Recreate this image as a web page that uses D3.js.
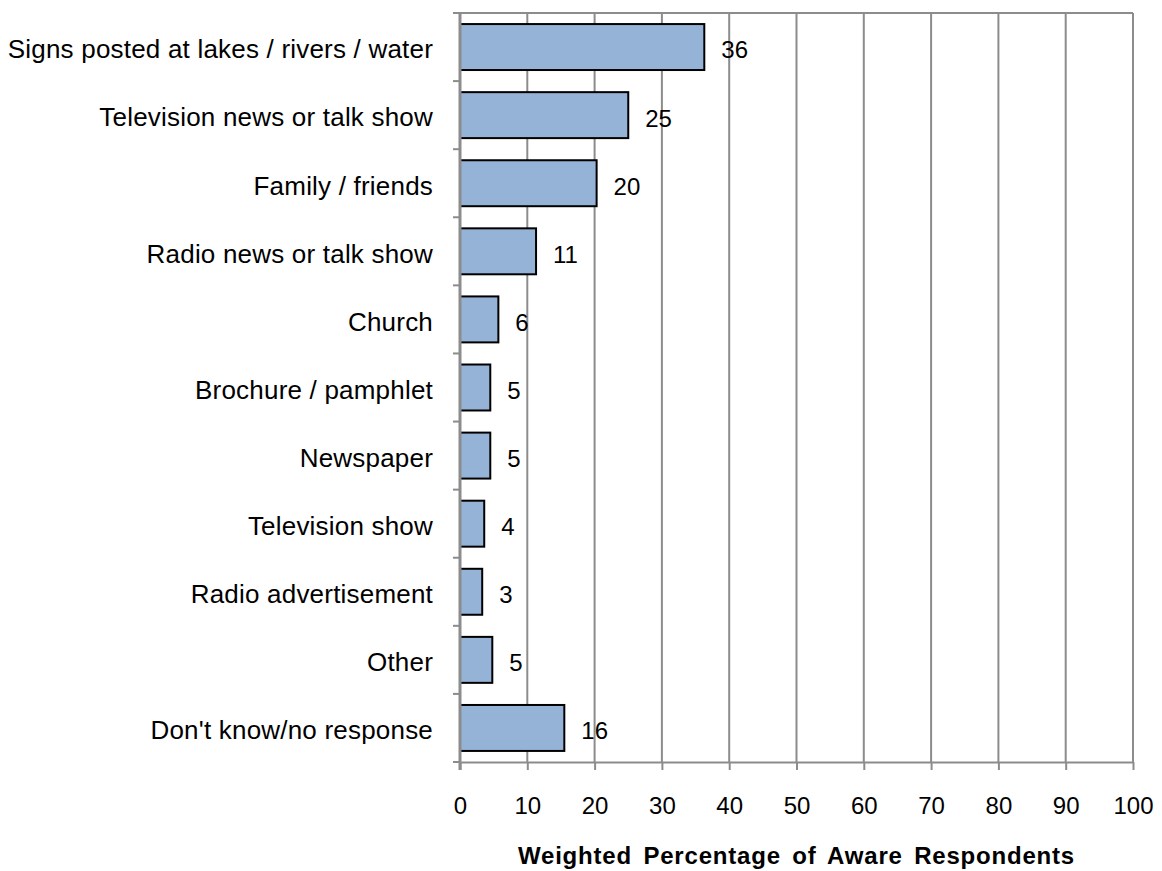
<!DOCTYPE html>
<html>
<head>
<meta charset="utf-8">
<script src="https://cdn.jsdelivr.net/npm/d3@7"></script>
<style>
	body { margin: 0; background: #fff; }
	text { font-family: "Liberation Sans", Arial, sans-serif; fill: #000; }
</style>
</head>
<body>
<svg id="chart"></svg>
<script>
const categories = [
	'Signs posted at lakes / rivers / water',
	'Television news or talk show',
	'Family / friends',
	'Radio news or talk show',
	'Church',
	'Brochure / pamphlet',
	'Newspaper',
	'Television show',
	'Radio advertisement',
	'Other',
	"Don't know/no response"
];
const values = [36.3, 25.0, 20.3, 11.3, 5.7, 4.5, 4.5, 3.6, 3.3, 4.8, 15.5];
const valueLabels = ['36', '25', '20', '11', '6', '5', '5', '4', '3', '5', '16'];
const xTicks = [0, 10, 20, 30, 40, 50, 60, 70, 80, 90, 100];
const xTitle = 'Weighted Percentage of Aware Respondents';

const DIMENSION = {
	width: 1162,
	height: 871,
	margin: { left: 460, right: 29, top: 13, bottom: 109 }
};
DIMENSION.trueWidth = DIMENSION.width - (DIMENSION.margin.left + DIMENSION.margin.right);
DIMENSION.trueHeight = DIMENSION.height - (DIMENSION.margin.top + DIMENSION.margin.bottom);

const svg = d3.select('#chart')
	.attr('width', DIMENSION.width)
	.attr('height', DIMENSION.height);

const g = svg.append('g')
	.attr('transform', `translate(${DIMENSION.margin.left},${DIMENSION.margin.top})`);

const xScale = d3.scaleLinear()
	.domain([0, 100])
	.range([0, DIMENSION.trueWidth]);

const yScale = d3.scaleBand()
	.domain(categories)
	.range([0, DIMENSION.trueHeight])
	.paddingInner(0.325)
	.paddingOuter(0.1625);

const gridColor = '#8c8c8c';

// vertical gridlines
g.append('g')
	.selectAll('line')
	.data(xTicks.slice(1))
	.join('line')
	.attr('x1', d => xScale(d))
	.attr('x2', d => xScale(d))
	.attr('y1', 0)
	.attr('y2', DIMENSION.trueHeight)
	.attr('stroke', gridColor)
	.attr('stroke-width', 2);

// top border line
g.append('line')
	.attr('x1', -7)
	.attr('x2', DIMENSION.trueWidth)
	.attr('y1', 0)
	.attr('y2', 0)
	.attr('stroke', gridColor)
	.attr('stroke-width', 2);

// bars
g.append('g')
	.selectAll('rect')
	.data(categories)
	.join('rect')
	.attr('x', 0)
	.attr('y', d => yScale(d))
	.attr('width', (d, i) => xScale(values[i]))
	.attr('height', yScale.bandwidth())
	.attr('fill', '#95b3d7')
	.attr('stroke', '#000')
	.attr('stroke-width', 2);

// value labels
g.append('g')
	.selectAll('text')
	.data(categories)
	.join('text')
	.attr('x', (d, i) => xScale(values[i]) + 17)
	.attr('y', d => yScale(d) + yScale.bandwidth() / 2 + 3)
	.attr('dy', '0.35em')
	.attr('font-size', 24)
	.text((d, i) => valueLabels[i]);

// x axis
const xAxis = g.append('g')
	.attr('transform', `translate(0,${DIMENSION.trueHeight})`)
	.call(d3.axisBottom(xScale).tickValues(xTicks).tickSize(8).tickPadding(27).tickSizeOuter(0));
xAxis.select('.domain').attr('stroke', gridColor).attr('stroke-width', 2);
xAxis.selectAll('.tick line').attr('stroke', gridColor).attr('stroke-width', 2);
xAxis.selectAll('.tick text')
	.attr('font-size', 24)
	.attr('font-family', '"Liberation Sans", Arial, sans-serif')
	.attr('fill', '#000');

// y axis with boundary ticks
const boundaries = d3.range(categories.length + 1).map(i => i * DIMENSION.trueHeight / categories.length);
g.append('line')
	.attr('x1', 0).attr('x2', 0)
	.attr('y1', 0).attr('y2', DIMENSION.trueHeight + 8)
	.attr('stroke', gridColor)
	.attr('stroke-width', 3);
g.append('g')
	.selectAll('line')
	.data(boundaries)
	.join('line')
	.attr('x1', -7).attr('x2', 0)
	.attr('y1', d => d).attr('y2', d => d)
	.attr('stroke', gridColor)
	.attr('stroke-width', 2);

// category labels
g.append('g')
	.selectAll('text')
	.data(categories)
	.join('text')
	.attr('x', -27)
	.attr('y', d => yScale(d) + yScale.bandwidth() / 2 + 2)
	.attr('dy', '0.36em')
	.attr('text-anchor', 'end')
	.attr('font-size', 26)
	.attr('letter-spacing', 0.2)
	.text(d => d);

// x title
svg.append('text')
	.attr('x', DIMENSION.margin.left + DIMENSION.trueWidth / 2)
	.attr('y', 864)
	.attr('text-anchor', 'middle')
	.attr('font-size', 24)
	.attr('font-weight', 'bold')
	.attr('letter-spacing', 0.8)
	.attr('word-spacing', 4)
	.text(xTitle);
</script>
</body>
</html>
